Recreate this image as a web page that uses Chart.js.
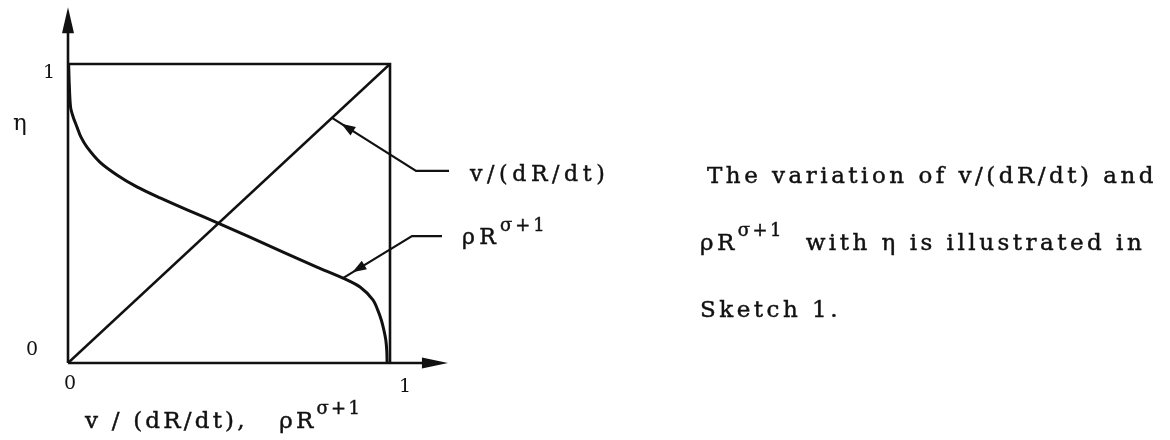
<!DOCTYPE html>
<html>
<head>
<meta charset="utf-8">
<script src="https://cdn.jsdelivr.net/npm/chart.js@4.4.1/dist/chart.umd.min.js"></script>
<style>
  html, body { margin: 0; padding: 0; background: #fff; }
  #sketch { display: block; }
</style>
</head>
<body>
<canvas id="sketch" width="1170" height="440"></canvas>
<script>
// Sketch 1: v/(dR/dt) y rhoR^(sigma+1) frente a eta.
const diagonalX = [0, 1];
const diagonalEta = [0, 1];
const densityX = [0.002, 0.004, 0.008, 0.016, 0.028, 0.040, 0.059, 0.099, 0.152, 0.214, 0.286, 0.370, 0.466, 0.565, 0.668, 0.773, 0.854, 0.907, 0.947, 0.962, 0.973, 0.981, 0.987, 0.990, 0.991];
const densityEta = [1.0, 0.93, 0.856, 0.823, 0.789, 0.756, 0.722, 0.672, 0.629, 0.589, 0.552, 0.512, 0.468, 0.421, 0.371, 0.321, 0.284, 0.254, 0.211, 0.177, 0.144, 0.110, 0.077, 0.040, 0.0];
const boxX = [0, 1, 1];
const boxEta = [1, 1, 0];
const xTicks = ['0', '1'];
const yTicks = ['0', '1'];
const yTitle = 'η';
const velocityLabel = 'v/(dR/dt)';
const densityLabel = ['ρR', 'σ+1'];
const xTitle = ['v / (dR/dt),   ρR', 'σ+1'];
const velocityPointerAt = 0.82;
const densityPointerIndex = 16;
const captionLines = [
  [['The variation of v/(dR/dt) and', false]],
  [['ρR', false], ['σ+1', true], ['  with η is illustrated in', false]],
  [['Sketch 1.', false]]
];

const ink = '#111111';
const serif = '"DejaVu Serif", "Liberation Serif", serif';

function pairs(xs, ys) {
  return xs.map((x, i) => ({ x: x, y: ys[i] }));
}

// Escribe texto con superindices y espaciado ancho tipo maquina de escribir.
function drawParts(ctx, parts, x, y, size, spacing) {
  let cx = x;
  ctx.lineWidth = 0.45;
  parts.forEach((part) => {
    const sup = part[1];
    const ty = sup ? y - size * 0.6 : y;
    ctx.font = (sup ? Math.round(size * 0.8) : size) + 'px ' + serif;
    ctx.letterSpacing = (sup ? spacing * 0.7 : spacing) + 'px';
    ctx.fillText(part[0], cx, ty);
    ctx.strokeText(part[0], cx, ty);
    cx += ctx.measureText(part[0]).width;
  });
}

function arrowHead(ctx, tipX, tipY, fromX, fromY, len, half) {
  const a = Math.atan2(tipY - fromY, tipX - fromX);
  ctx.beginPath();
  ctx.moveTo(tipX, tipY);
  ctx.lineTo(tipX - len * Math.cos(a) + half * Math.sin(a), tipY - len * Math.sin(a) - half * Math.cos(a));
  ctx.lineTo(tipX - len * Math.cos(a) - half * Math.sin(a), tipY - len * Math.sin(a) + half * Math.cos(a));
  ctx.closePath();
  ctx.fill();
}

function pointer(ctx, ax, ay, dx, dy, run) {
  const ex = ax + dx;
  const ey = ay + dy;
  ctx.lineWidth = 2.2;
  ctx.beginPath();
  ctx.moveTo(ax, ay);
  ctx.lineTo(ex, ey);
  ctx.lineTo(ex + run, ey);
  ctx.stroke();
  const d = Math.hypot(dx, dy);
  const tx = ax + dx / d * 11;
  const ty = ay + dy / d * 11;
  arrowHead(ctx, tx, ty, ax + dx / d * 30, ay + dy / d * 30, 14, 5);
}

const sketchPlugin = {
  id: 'sketchPlugin',
  afterDraw(chart) {
    const ctx = chart.ctx;
    const xs = chart.scales.x;
    const ys = chart.scales.y;
    const ox = xs.getPixelForValue(0);
    const oy = ys.getPixelForValue(0);
    const xEnd = xs.getPixelForValue(1.18);
    const yEnd = ys.getPixelForValue(1.19);

    ctx.save();
    ctx.strokeStyle = ink;
    ctx.fillStyle = ink;
    ctx.lineWidth = 2.6;
    ctx.beginPath();
    ctx.moveTo(ox, oy);
    ctx.lineTo(xEnd - 10, oy);
    ctx.moveTo(ox, oy);
    ctx.lineTo(ox, yEnd + 10);
    ctx.stroke();
    arrowHead(ctx, xEnd, oy, ox, oy, 26, 5.5);
    arrowHead(ctx, ox, yEnd, ox, oy, 26, 6);

    // Marcas de los ejes
    ctx.textBaseline = 'middle';
    ctx.textAlign = 'center';
    ctx.font = '19px ' + serif;
    ctx.fillText(xTicks[0], xs.getPixelForValue(0) + 2, oy + 21);
    ctx.fillText(xTicks[1], xs.getPixelForValue(1) + 15, oy + 24);
    ctx.fillText(yTicks[0], ox - 36, ys.getPixelForValue(0) - 13);
    ctx.fillText(yTicks[1], ox - 19, ys.getPixelForValue(1) + 9);
    ctx.font = '23px ' + serif;
    ctx.fillText(yTitle, ox - 48, ys.getPixelForValue(0.8));

    // Flechas de las etiquetas
    const vx = xs.getPixelForValue(velocityPointerAt);
    const vy = ys.getPixelForValue(velocityPointerAt);
    pointer(ctx, vx, vy, 84, 53, 33);
    const dp = chart.data.datasets[1].data[densityPointerIndex];
    const px = xs.getPixelForValue(dp.x);
    const py = ys.getPixelForValue(dp.y);
    pointer(ctx, px, py, 69, -42, 30);

    ctx.textAlign = 'left';
    ctx.textBaseline = 'alphabetic';
    drawParts(ctx, [[velocityLabel, false]], 470, 181, 22, 4.6);
    drawParts(ctx, [[densityLabel[0], false], [densityLabel[1], true]], 462, 244, 22, 4.2);
    drawParts(ctx, [[xTitle[0], false], [xTitle[1], true]], 85, 428, 23, 3.2);

    captionLines.forEach((line, i) => {
      drawParts(ctx, line, i === 0 ? 707 : 700, 183 + i * 67, 23, 3.5);
    });
    ctx.restore();
  }
};

const lineStyle = {
  showLine: true,
  borderColor: ink,
  pointRadius: 0,
  fill: false,
  clip: false
};

new Chart(document.getElementById('sketch'), {
  type: 'scatter',
  data: {
    datasets: [
      Object.assign({ label: 'v/(dR/dt)', data: pairs(diagonalX, diagonalEta), borderWidth: 2.4 }, lineStyle),
      Object.assign({ label: 'ρR^(σ+1)', data: pairs(densityX, densityEta), borderWidth: 3, tension: 0.3 }, lineStyle),
      Object.assign({ label: 'box', data: pairs(boxX, boxEta), borderWidth: 2.6 }, lineStyle)
    ]
  },
  options: {
    responsive: false,
    animation: false,
    layout: { padding: { left: 68, right: 780, top: 64, bottom: 77 } },
    plugins: { legend: { display: false }, tooltip: { enabled: false } },
    scales: {
      x: { type: 'linear', min: 0, max: 1, display: false },
      y: { type: 'linear', min: 0, max: 1, display: false }
    }
  },
  plugins: [sketchPlugin]
});
</script>
</body>
</html>
